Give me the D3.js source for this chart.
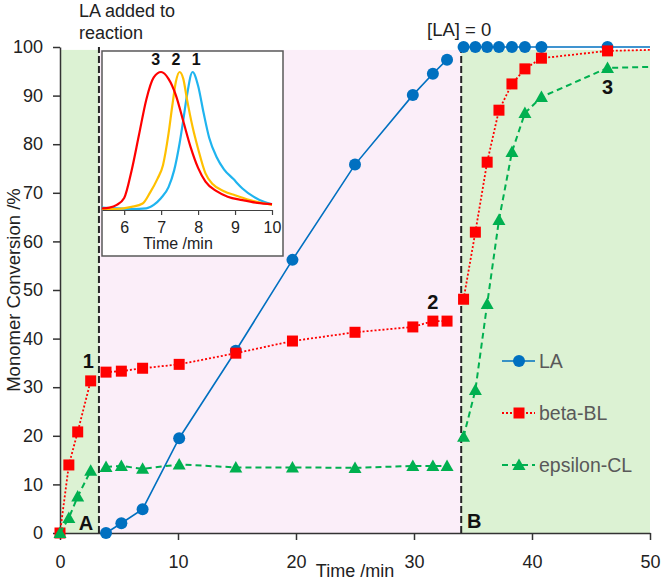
<!DOCTYPE html>
<html>
<head>
	<title>Monomer conversion</title>
	<script src="https://d3js.org/d3.v7.min.js"></script>
	<style>
		body { margin: 0; background: #fff; }
		text { font-family: "Liberation Sans", Arial, sans-serif; }
		.tick text { font-size: 18px; fill: #222; }
		.inset .tick text { font-size: 16px; }
	</style>
</head>
<body>
	<div id="chart"></div>

	<script type="text/javascript">
		// sampling times (min), split where LA is added and where it runs out
		var tEarly = [0, 0.75, 1.5, 2.6];
		var tMid = [3.9, 5.2, 7.0, 10.1, 14.9, 19.7, 25.0, 29.9, 31.6, 32.8];
		var tLate = [34.2, 35.2, 36.2, 37.2, 38.3, 39.4, 40.8, 46.4];
		var tEnd = 50;

		// conversion (%)
		var laMid = [0, 2.0, 4.9, 19.5, 37.5, 56.2, 75.8, 90.1, 94.5, 97.4];
		var laLate = [100, 100, 100, 100, 100, 100, 100, 100];
		var laEnd = 100;

		var bblEarly = [0, 14.0, 20.8, 31.3];
		var bblMid = [33.1, 33.3, 33.9, 34.7, 37.0, 39.5, 41.3, 42.4, 43.6, 43.6];
		var bblLate = [48.1, 61.9, 76.3, 87.0, 92.4, 95.5, 97.7, 99.2];
		var bblEnd = 99.4;

		var eclEarly = [0, 3.1, 7.5, 12.8];
		var eclMid = [13.6, 13.8, 13.2, 14.1, 13.5, 13.5, 13.4, 13.8, 13.8, 13.8];
		var eclLate = [19.8, 29.4, 47.1, 64.4, 78.4, 86.4, 89.7, 95.7];
		var eclEnd = 95.9;

		var legendNames = ["LA", "beta-BL", "epsilon-CL"];

		// phases of the reaction (min)
		var phaseStart = [0, 3.3, 34];
		var phaseEnd = [3.3, 34, 50];
		var phaseTop = 99.4;
		var markerTimes = [3.3, 34];

		// GPC traces for the inset (elution time /min, normalised signal)
		var gpc1Time = [5.4, 5.8, 6.2, 6.6, 6.8, 7.0, 7.2, 7.35, 7.5, 7.6, 7.7, 7.85, 8.0, 8.15, 8.3, 8.5, 8.7, 8.95, 9.2, 9.5, 9.8, 10.0];
		var gpc1Signal = [0.01, 0.005, 0, 0.005, 0.03, 0.08, 0.16, 0.28, 0.48, 0.65, 0.83, 1.0, 0.9, 0.7, 0.52, 0.38, 0.29, 0.22, 0.15, 0.09, 0.05, 0.035];
		var gpc2Time = [5.4, 5.8, 6.2, 6.5, 6.7, 6.9, 7.05, 7.2, 7.3, 7.4, 7.5, 7.6, 7.7, 7.85, 8.0, 8.2, 8.4, 8.7, 9.0, 9.4, 9.8, 10.0];
		var gpc2Signal = [0, 0, 0.015, 0.04, 0.12, 0.22, 0.32, 0.55, 0.75, 0.93, 1.0, 0.95, 0.8, 0.6, 0.44, 0.26, 0.18, 0.13, 0.1, 0.065, 0.04, 0.03];
		var gpc3Time = [5.4, 5.6, 5.8, 6.0, 6.2, 6.4, 6.6, 6.8, 7.0, 7.2, 7.4, 7.6, 7.8, 8.0, 8.2, 8.5, 8.8, 9.2, 9.6, 10.0];
		var gpc3Signal = [0.005, 0.01, 0.03, 0.08, 0.28, 0.54, 0.8, 0.96, 1.0, 0.95, 0.83, 0.64, 0.45, 0.3, 0.2, 0.13, 0.09, 0.065, 0.045, 0.035];
		var gpcTicks = [6, 7, 8, 9, 10];

		var W = 661, H = 580;
		var x = d3.scaleLinear().domain([0, 50]).range([60, 650]);
		var y = d3.scaleLinear().domain([0, 100]).range([533, 47]);

		var svg = d3.select("#chart").append("svg")
			.attr("width", W).attr("height", H);

		// background shading
		var shadeColors = ["#dcf2d3", "#fbeef9", "#dcf2d3"];
		svg.append("g").selectAll("rect")
			.data(phaseStart)
			.enter().append("rect")
			.attr("x", function(d){ return x(d); })
			.attr("width", function(d, i){ return x(phaseEnd[i]) - x(d); })
			.attr("y", y(phaseTop))
			.attr("height", y(0) - y(phaseTop))
			.style("fill", function(d, i){ return shadeColors[i]; });

		// axes
		var xAxis = svg.append("g")
			.attr("transform", "translate(0," + y(0) + ")")
			.call(d3.axisBottom(x).tickValues([0, 10, 20, 30, 40, 50]).tickSize(7).tickSizeOuter(0).tickPadding(8));
		var yAxis = svg.append("g")
			.attr("transform", "translate(" + x(0) + ",0)")
			.call(d3.axisLeft(y).tickValues(d3.range(0, 101, 10)).tickSize(7).tickSizeOuter(0).tickPadding(10));
		[xAxis, yAxis].forEach(function(a){
			a.selectAll("path, line").attr("stroke", "#333").attr("stroke-width", 1.5);
		});
		xAxis.selectAll(".tick text").attr("dy", "1.1em");

		svg.append("text")
			.attr("x", (x(0) + x(50)) / 2).attr("y", 577)
			.style("text-anchor", "middle").style("font-size", "18px").style("fill", "#222")
			.text("Time /min");
		svg.append("text")
			.attr("transform", "translate(20," + (y(50)) + ") rotate(-90)")
			.style("text-anchor", "middle").style("font-size", "18.5px").style("fill", "#222")
			.text("Monomer Conversion /%");

		// dashed lines marking LA addition and LA exhaustion
		svg.append("g").selectAll("line")
			.data(markerTimes)
			.enter().append("line")
			.attr("x1", function(d){ return x(d); }).attr("x2", function(d){ return x(d); })
			.attr("y1", y(0)).attr("y2", y(100))
			.attr("stroke", "#262626").attr("stroke-width", 2)
			.attr("stroke-dasharray", "7,3");

		svg.append("text").attr("x", 79).attr("y", 17).style("font-size", "18px").style("fill", "#222").text("LA added to");
		svg.append("text").attr("x", 79).attr("y", 39).style("font-size", "18px").style("fill", "#222").text("reaction");
		svg.append("text").attr("x", x(34) - 2).attr("y", 36).style("text-anchor", "middle").style("font-size", "18.5px").style("fill", "#222").text("[LA] = 0");

		// series
		var line = d3.line()
			.x(function(d){ return x(d[0]); })
			.y(function(d){ return y(d[1]); });

		function zip(t, v){ return t.map(function(d, i){ return [d, v[i]]; }); }

		var styles = [
			{color: "#0070c0", dash: null, width: 1.6, shape: "circle"},
			{color: "#ff0000", dash: "2,2", width: 1.8, shape: "square"},
			{color: "#00b050", dash: "6,4", width: 2, shape: "triangle"}
		];

		function marker(sel, st){
			if (st.shape == "circle") {
				sel.append("circle").attr("r", 6).style("fill", st.color);
			} else if (st.shape == "square") {
				sel.append("rect").attr("x", -5.5).attr("y", -5.5).attr("width", 11).attr("height", 11).style("fill", st.color);
			} else {
				sel.append("path").attr("d", "M0,-6.5L6.5,5L-6.5,5Z").style("fill", st.color);
			}
		}

		function drawSeries(segments, st){
			var g = svg.append("g");
			segments.forEach(function(seg){
				var pts = zip(seg.t, seg.v);
				var linePts = seg.end != null ? pts.concat([[tEnd, seg.end]]) : pts;
				g.append("path")
					.attr("d", line(linePts))
					.attr("fill", "none")
					.attr("stroke", st.color)
					.attr("stroke-width", st.width)
					.attr("stroke-dasharray", st.dash);
				g.selectAll(null)
					.data(pts)
					.enter().append("g")
					.attr("transform", function(d){ return "translate(" + x(d[0]) + "," + y(d[1]) + ")"; })
					.each(function(){ marker(d3.select(this), st); });
			});
		}

		drawSeries([{t: tMid, v: laMid}, {t: tLate, v: laLate, end: laEnd}], styles[0]);
		drawSeries([{t: tEarly, v: bblEarly}, {t: tMid, v: bblMid}, {t: tLate, v: bblLate, end: bblEnd}], styles[1]);
		drawSeries([{t: tEarly, v: eclEarly}, {t: tMid, v: eclMid}, {t: tLate, v: eclLate, end: eclEnd}], styles[2]);

		// annotations
		var annoText = ["1", "2", "3", "A", "B"];
		var annoT = [2.4, 31.6, 46.4, 2.2, 35.1];
		var annoV = [34, 46, 90.3, 0.6, 1.0];
		svg.append("g").selectAll("text")
			.data(annoText)
			.enter().append("text")
			.attr("x", function(d, i){ return x(annoT[i]); })
			.attr("y", function(d, i){ return y(annoV[i]); })
			.style("text-anchor", "middle").style("font-size", "20px").style("font-weight", "bold").style("fill", "#111")
			.text(function(d){ return d; });

		// legend
		var legend = svg.append("g").attr("transform", "translate(502,0)");
		var legendY = [361, 413, 465];
		legendNames.forEach(function(name, i){
			var st = styles[i];
			var row = legend.append("g").attr("transform", "translate(0," + legendY[i] + ")");
			row.append("line").attr("x1", 0).attr("x2", 33)
				.attr("stroke", st.color).attr("stroke-width", st.width).attr("stroke-dasharray", st.dash);
			marker(row.append("g").attr("transform", "translate(17,0)"), st);
			row.append("text").attr("x", 37).attr("dy", "0.35em")
				.style("font-size", "19.5px").style("fill", "#595959").text(name);
		});

		// inset GPC traces
		var inset = svg.append("g").attr("class", "inset");
		inset.append("rect")
			.attr("x", 102).attr("y", 51).attr("width", 181).attr("height", 205)
			.style("fill", "#fff").attr("stroke", "#595959").attr("stroke-width", 1.5);
		var ix = d3.scaleLinear().domain([5.4, 10]).range([102, 272]);
		var iy = d3.scaleLinear().domain([0, 1]).range([209, 72]);
		var ixAxis = inset.append("g")
			.attr("transform", "translate(0,210)")
			.call(d3.axisBottom(ix).tickValues(gpcTicks).tickFormat(d3.format("d")).tickSize(5).tickSizeOuter(0).tickPadding(7));
		ixAxis.selectAll("path, line").attr("stroke", "#404040").attr("stroke-width", 1.2);
		inset.append("text").attr("x", 178).attr("y", 249)
			.style("text-anchor", "middle").style("font-size", "16px").style("fill", "#222")
			.text("Time /min");

		var iline = d3.line()
			.curve(d3.curveMonotoneX)
			.x(function(d){ return ix(d[0]); })
			.y(function(d){ return iy(d[1]); });
		var gpcTimes = [gpc1Time, gpc2Time, gpc3Time];
		var gpcSignals = [gpc1Signal, gpc2Signal, gpc3Signal];
		var gpcColors = ["#1fb4ef", "#ffc000", "#ff0000"];
		gpcTimes.forEach(function(t, i){
			inset.append("path")
				.attr("d", iline(zip(t, gpcSignals[i])))
				.attr("fill", "none")
				.attr("stroke", gpcColors[i])
				.attr("stroke-width", 2.2);
		});
		var gpcLabels = ["1", "2", "3"];
		var gpcLabelT = [7.95, 7.4, 6.85];
		inset.selectAll(".peak")
			.data(gpcLabels)
			.enter().append("text")
			.attr("x", function(d, i){ return ix(gpcLabelT[i]); })
			.attr("y", 65)
			.style("text-anchor", "middle").style("font-size", "16px").style("font-weight", "bold").style("fill", "#111")
			.text(function(d){ return d; });
	</script>
</body>
</html>
